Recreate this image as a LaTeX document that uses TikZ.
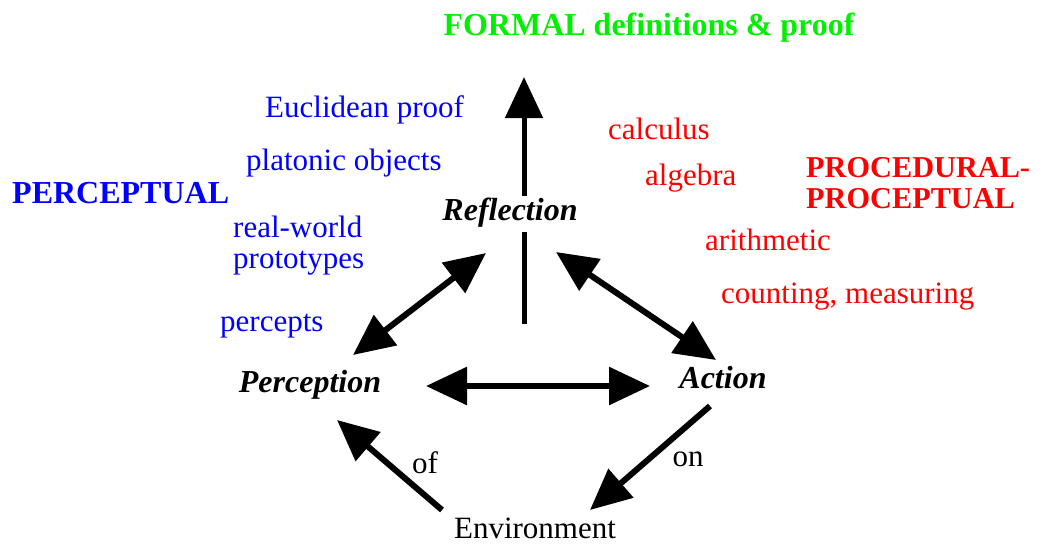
\documentclass[tikz,border=0pt]{standalone}
\usepackage{fontspec}
\setmainfont{Liberation Serif}
\usetikzlibrary{arrows.meta}
\definecolor{fgreen}{RGB}{0,240,0}
\definecolor{fblue}{RGB}{0,0,255}
\definecolor{fred}{RGB}{255,0,0}
\begin{document}
\begin{tikzpicture}[x=1pt,y=-1pt,
  txt/.style={inner sep=0pt,font=\fontsize{31}{32}\selectfont},
  bigtxt/.style={inner sep=0pt,font=\fontsize{32}{31}\selectfont\bfseries},
  proctxt/.style={inner sep=0pt,font=\fontsize{30.3}{31}\selectfont\bfseries},
  hub/.style={inner sep=0pt,font=\fontsize{32}{33}\selectfont\bfseries\itshape},
  link/.style={line width=6pt,-{Triangle[length=41pt,width=37pt]}},
  dlink/.style={line width=6pt,{Triangle[length=41pt,width=37pt]}-{Triangle[length=41pt,width=37pt]}}]
\useasboundingbox (0,0) rectangle (1045,544);
% headings
\node[bigtxt,text=fgreen,anchor=base] (formal) at (649,35) {FORMAL definitions \& proof};
\node[bigtxt,text=fblue,anchor=base west] (perceptual) at (12,203) {PERCEPTUAL};
\node[proctxt,text=fred,anchor=base west] (procedural) at (806,177) {PROCEDURAL-};
\node[proctxt,text=fred,anchor=base west] (proceptual) at (806,208) {PROCEPTUAL};
% blue items
\node[txt,text=fblue,anchor=base west] (eucl) at (265,117) {Euclidean proof};
\node[txt,text=fblue,anchor=base west] (plat) at (246,170) {platonic objects};
\node[txt,text=fblue,anchor=base west] (real) at (233,237) {real-world};
\node[txt,text=fblue,anchor=base west] (proto) at (233,268) {prototypes};
\node[txt,text=fblue,anchor=base west] (perc) at (220,331) {percepts};
% red items
\node[txt,text=fred,anchor=base west] (calc) at (608,139) {calculus};
\node[txt,text=fred,anchor=base west] (alg) at (645,185) {algebra};
\node[txt,text=fred,anchor=base west] (arith) at (705,250) {arithmetic};
\node[txt,text=fred,anchor=base west] (count) at (721,303) {counting, measuring};
% hubs
\node[hub,anchor=base] (refl) at (510,220) {Reflection};
\node[hub,anchor=base] (percn) at (310,392) {Perception};
\node[hub,anchor=base] (act) at (723,388) {Action};
\node[txt,anchor=base] (env) at (535,538) {Environment};
\node[txt,anchor=base] (of) at (425,473) {of};
\node[txt,anchor=base] (on) at (688,466) {on};
% endpoints
\coordinate (vbot) at (524,324);
\coordinate (vmid1) at (524,232);
\coordinate (vmid2) at (524,196);
\coordinate (vtop) at (524,77);
\coordinate (prA) at (353,355);
\coordinate (prB) at (486,253);
\coordinate (raA) at (556,252);
\coordinate (raB) at (716,360);
\coordinate (paA) at (426,386);
\coordinate (paB) at (650,386);
\coordinate (epA) at (442,510);
\coordinate (epB) at (337,420);
\coordinate (aeA) at (710,406);
\coordinate (aeB) at (590,510);
% connectors
\draw[line width=5pt] (vbot) -- (vmid1);
\draw[link,line width=5pt] (vmid2) -- (vtop);
\draw[dlink] (prA) -- (prB);
\draw[dlink] (raA) -- (raB);
\draw[dlink] (paA) -- (paB);
\draw[link] (epA) -- (epB);
\draw[link] (aeA) -- (aeB);
\end{tikzpicture}
\end{document}
